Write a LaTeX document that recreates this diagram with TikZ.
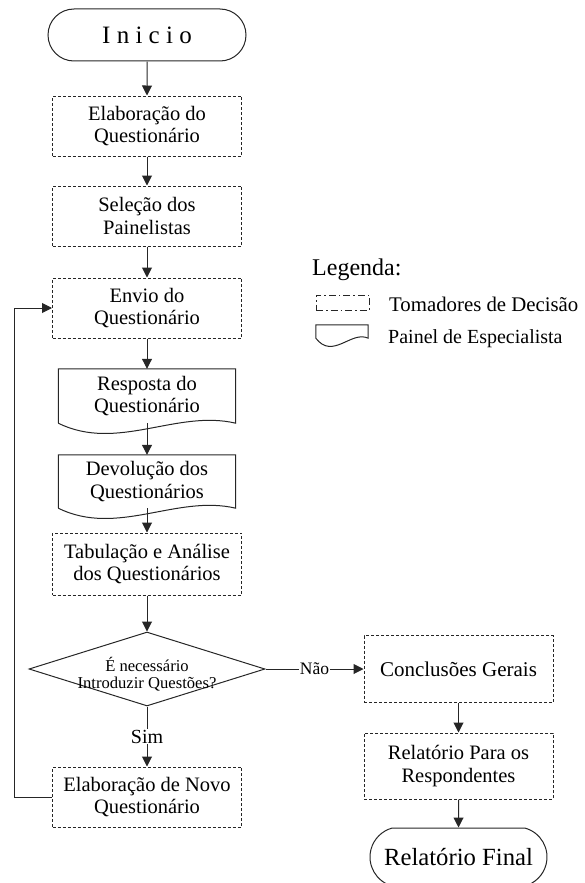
\documentclass[tikz,border=0pt]{standalone}
\usepackage{fontspec}
\setmainfont{Liberation Serif}
\usetikzlibrary{shapes.misc,shapes.geometric,arrows.meta,calc}

% outline of a "document" symbol drawn round a node: #2 = horizontal control
% offset, #3 = depth of the dip, #4 = height of the hump
\newcommand{\docoutline}[4]{%
  \draw[docline] (#1.south west) -- (#1.north west) -- (#1.north east) -- (#1.south east)
    .. controls ($(#1.south east)+(-#2,-#4)$) and ($(#1.south west)+(#2,#3)$) .. (#1.south west);}

\begin{document}
\begin{tikzpicture}[x=1pt,y=-1pt,
  ln/.style={draw=black!85, line width=1pt},
  proc/.style={ln, dash pattern=on 3pt off 2pt, minimum width=189pt, minimum height=60pt,
    inner sep=0pt, align=center, font=\fontsize{20.5}{22.5}\selectfont},
  docnode/.style={minimum width=177pt, minimum height=54pt, inner sep=0pt, align=center,
    font=\fontsize{20.5}{22.5}\selectfont},
  docline/.style={ln},
  term/.style={ln, rounded rectangle, inner sep=0pt, align=center},
  conn/.style={ln, -{Triangle[length=10pt,width=10pt]}},
  lbl/.style={fill=white, inner sep=1pt}]

\useasboundingbox (0,0) rectangle (585,883);

% main column
\node[term, minimum width=198pt, minimum height=52pt, font=\fontsize{25}{30}\selectfont]
  (ini) at (147,35) {I n i c i o};
\node[proc] (b1) at (147,126) {Elaboração do\\Questionário};
\node[proc] (b2) at (147,216) {Seleção dos\\Painelistas};
\node[proc] (b3) at (147,308) {Envio do\\Questionário};
\node[docnode] (d1) at (147,396) {Resposta do\\Questionário};
\docoutline{d1}{59}{29}{14}
\node[docnode, minimum height=53pt] (d2) at (147,481.5) {Devolução dos\\Questionários};
\docoutline{d2}{59}{29}{14}
\node[proc, minimum height=62pt] (b4) at (147,564) {Tabulação e Análise\\dos Questionários};
\node[ln, diamond, minimum width=236pt, minimum height=74pt, inner sep=0pt,
  label={[yshift=-5pt, align=center, font=\fontsize{16.6}{16.6}\selectfont]center:É necessário\\Introduzir Questões?}]
  (q) at (147,669) {};
\node[proc] (b5) at (147,797) {Elaboração de Novo\\Questionário};

% right column
\node[proc, minimum height=67pt, font=\fontsize{21}{23}\selectfont] (c1) at (458.5,669) {Conclusões Gerais};
\node[proc, minimum height=66pt] (c2) at (458.5,766) {Relatório Para os\\Respondentes};
\node[term, rounded rectangle arc length=150, minimum width=177pt, minimum height=58pt,
  font=\fontsize{24.7}{28}\selectfont] (c3) at (458.5,857) {Relatório Final};

% legend
\node[anchor=base west, inner sep=0pt, font=\fontsize{24}{28}\selectfont] (lgt) at (312,275) {Legenda:};
\node[ln, dash pattern=on 7pt off 3pt on 1.5pt off 3pt, minimum width=53pt, minimum height=15pt,
  inner sep=0pt] (lg1) at (342.5,302.5) {};
\node[anchor=base west, inner sep=0pt, font=\fontsize{20.8}{25}\selectfont] (lg1t) at (389,311) {Tomadores de Decisão};
\node[minimum width=52pt, minimum height=13pt, inner sep=0pt] (lg2) at (342,331.5) {};
\docoutline{lg2}{17}{22}{8}
\node[anchor=base west, inner sep=0pt, font=\fontsize{20}{24}\selectfont] (lg2t) at (388,343) {Painel de Especialista};

% connectors
\draw[conn] (ini) -- (b1);
\draw[conn] (b1) -- (b2);
\draw[conn] (b2) -- (b3);
\draw[conn] (b3) -- (d1);
\draw[conn] (d1) -- (d2);
\draw[conn] (d2) -- (b4);
\draw[conn] (b4) -- (q);
\draw[conn] (q) -- node[lbl, font=\fontsize{20}{24}\selectfont]{Sim} (b5);
\draw[conn] (q) -- node[lbl, font=\fontsize{17.5}{20}\selectfont]{Não} (c1);
\draw[conn] (c1) -- (c2);
\draw[conn] (c2) -- (c3);
\draw[conn] (b5.west) -- ++(-38,0) |- (b3.west);
\end{tikzpicture}
\end{document}
